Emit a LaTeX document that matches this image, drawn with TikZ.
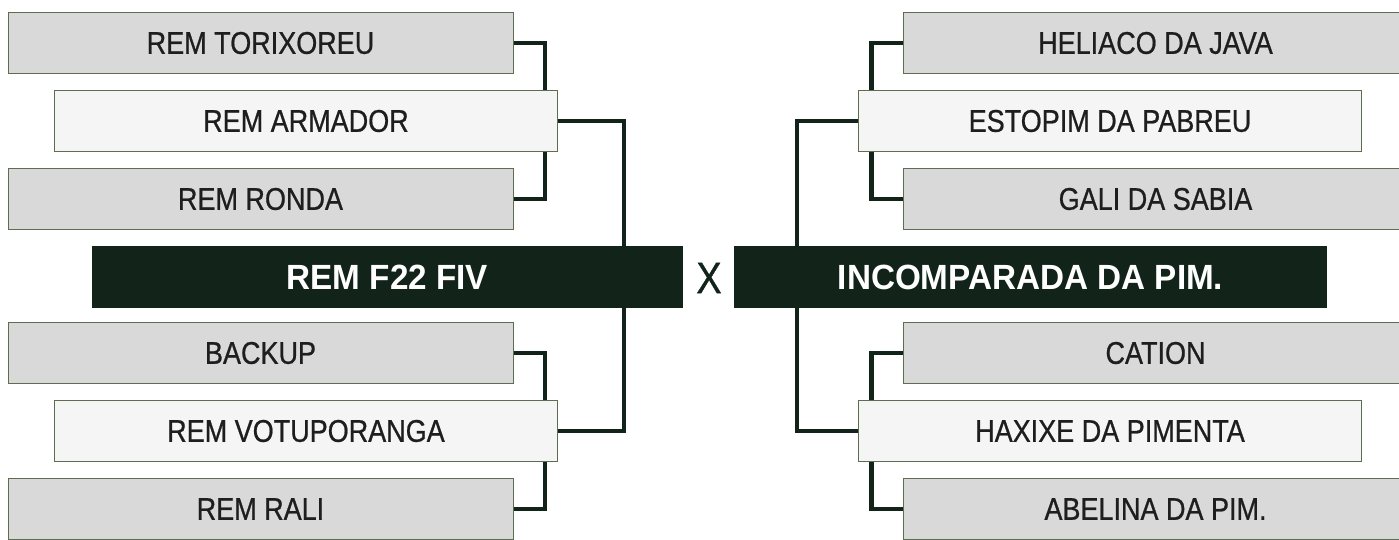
\documentclass[tikz,border=0pt]{standalone}
\usepackage{fontspec}
\usetikzlibrary{backgrounds}
\newfontfamily\seedfont[FakeStretch=0.86,FakeBold=0.7]{Liberation Sans}
\newfontfamily\finalfont[FakeStretch=0.95]{Liberation Sans}

\definecolor{pine}{HTML}{12241A}
\definecolor{seedgray}{HTML}{D9D9D9}
\definecolor{seedlight}{HTML}{F5F5F5}
\definecolor{seedline}{HTML}{5C6E4F}
\definecolor{ink}{HTML}{1E1E1E}

\tikzset{
  seedbox/.style={draw=seedline, line width=1pt, fill=seedgray, text=ink, inner sep=0pt,
    minimum width=505pt, minimum height=61pt,
    font=\seedfont\fontsize{31.4}{36}\selectfont},
  pickbox/.style={seedbox, fill=seedlight, minimum width=503pt},
  finalbox/.style={fill=pine, text=white, inner sep=0pt, minimum height=62pt,
    font=\finalfont\bfseries\fontsize{35}{40}\selectfont},
  link/.style={draw=pine, line width=4.5pt}
}

\begin{document}
\begin{tikzpicture}[x=1pt, y=-1pt]
\useasboundingbox (0,0) rectangle (1399,539);

% Left group, upper bracket
\node[seedbox] (tor) at (260.5,43) {REM TORIXOREU};
\node[pickbox] (arm) at (306,121) {REM ARMADOR};
\node[seedbox] (ron) at (260.5,199) {REM RONDA};

% Left group, lower bracket
\node[seedbox] (bac) at (260.5,353) {BACKUP};
\node[pickbox] (vot) at (306,431) {REM VOTUPORANGA};
\node[seedbox] (ral) at (260.5,509) {REM RALI};

% Right group, upper bracket
\node[seedbox] (hel) at (1155.5,43) {HELIACO DA JAVA};
\node[pickbox] (est) at (1110,121) {ESTOPIM DA PABREU};
\node[seedbox] (gal) at (1155.5,199) {GALI DA SABIA};

% Right group, lower bracket
\node[seedbox] (cat) at (1155.5,353) {CATION};
\node[pickbox] (hax) at (1110,431) {HAXIXE DA PIMENTA};
\node[seedbox] (abe) at (1155.5,509) {ABELINA DA PIM.};

% Final
\node[finalbox, minimum width=591pt] (fiv) at (387.5,277) {REM F22 FIV};
\node[text=pine, font=\seedfont\fontsize{44}{48}\selectfont] (vs) at (709,278) {X};
\node[finalbox, minimum width=593pt] (inc) at (1030.5,277) {INCOMPARADA DA PIM.};

% Bracket lines behind the boxes
\begin{scope}[on background layer]
\draw[link] (tor.east) -- ++(31.5,0) |- (ron.east);
\draw[link] (bac.east) -- ++(31.5,0) |- (ral.east);
\draw[link] (arm.east) -- ++(66,0) |- (vot.east);

\draw[link] (hel.west) -- ++(-31,0) |- (gal.west);
\draw[link] (cat.west) -- ++(-31,0) |- (abe.west);
\draw[link] (est.west) -- ++(-61,0) |- (hax.west);
\end{scope}

\end{tikzpicture}
\end{document}
